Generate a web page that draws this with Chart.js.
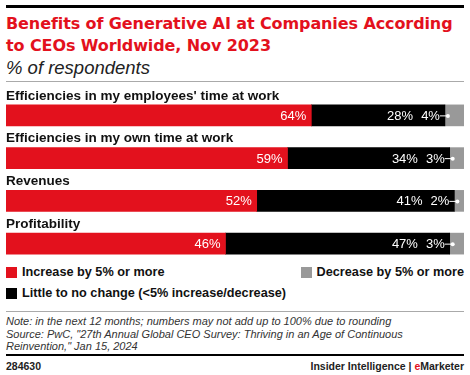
<!DOCTYPE html>
<html>
<head>
<meta charset="utf-8">
<script src="https://cdn.jsdelivr.net/npm/chart.js@4"></script>
<style>
body{margin:0;width:470px;height:375px;background:#fff;font-family:"Liberation Sans",Arial,sans-serif;position:relative;overflow:hidden}
.topline{position:absolute;left:6px;top:5px;width:458px;height:3px;background:#000}
.title{position:absolute;left:6px;top:13px;width:464px;color:#e3111d;font-weight:bold;font-family:"DejaVu Sans",sans-serif;font-size:16px;line-height:21.5px;letter-spacing:-0.1px;white-space:nowrap}
.sub{position:absolute;left:6px;top:57px;font-style:italic;font-size:18.5px;color:#222}
.grayline{position:absolute;left:6px;width:458px;height:1px;background:#aaa}
#wrap{position:absolute;left:0;top:85px;width:470px;height:180px}
.leg{position:absolute;font-size:12.7px;font-weight:bold;color:#111;display:flex;align-items:center}
.leg i{display:inline-block;width:11px;height:11px;margin-right:5px}
.note{position:absolute;left:6px;top:315px;font-style:italic;font-size:11px;line-height:12.5px;color:#333}
.blackline{position:absolute;left:6px;top:354px;width:458px;height:2px;background:#000}
.foot{position:absolute;top:360px;font-size:10.5px;font-weight:bold;color:#222}
</style>
</head>
<body>
<div class="topline"></div>
<div class="title">Benefits of Generative AI at Companies According<br>to CEOs Worldwide, Nov 2023</div>
<div class="sub">% of respondents</div>
<div class="grayline" style="top:81px"></div>
<div id="wrap"><canvas id="chart"></canvas></div>
<div class="leg" style="left:6px;top:265px"><i style="background:#e3111d"></i>Increase by 5% or more</div>
<div class="leg" style="right:6px;top:265px"><i style="background:#999"></i>Decrease by 5% or more</div>
<div class="leg" style="left:6px;top:286px"><i style="background:#000"></i>Little to no change (&lt;5% increase/decrease)</div>
<div class="grayline" style="top:311px"></div>
<div class="note">Note: in the next 12 months; numbers may not add up to 100% due to rounding<br>Source: PwC, "27th Annual Global CEO Survey: Thriving in an Age of Continuous<br>Reinvention," Jan 15, 2024</div>
<div class="blackline"></div>
<div class="foot" style="left:6px">284630</div>
<div class="foot" style="right:6px">Insider Intelligence | <span style="color:#e3111d">e</span>Marketer</div>
<script>
var kategoriat = ["Efficiencies in my employees' time at work", "Efficiencies in my own time at work", "Revenues", "Profitability"];
var kasvu = [64, 59, 52, 46];
var eimuutosta = [28, 34, 41, 47];
var lasku = [4, 3, 2, 3];
var sarjat = ["Increase by 5% or more", "Little to no change (<5% increase/decrease)", "Decrease by 5% or more"];
var varit = ["#e3111d", "#000000", "#999999"];

// each row is stretched to full width, like the original
function osuus(arvot)
{
    return arvot.map(function (v, i) {
        return v / (kasvu[i] + eimuutosta[i] + lasku[i]) * 100;
    });
}
var raaka = [kasvu, eimuutosta, lasku];

var tekstit = {
  id: 'tekstit',
  afterDatasetsDraw: function (chart) {
    var ctx = chart.ctx;
    ctx.save();
    var m0 = chart.getDatasetMeta(0), m2 = chart.getDatasetMeta(2);
    for (let i = 0; i < kategoriat.length; i++)
    {
        var b0 = m0.data[i], b2 = m2.data[i];
        var top = b0.y - b0.height / 2;
        ctx.fillStyle = '#111';
        ctx.font = 'bold 13.5px "Liberation Sans", Arial, sans-serif';
        ctx.textAlign = 'left';
        ctx.textBaseline = 'middle';
        ctx.fillText(kategoriat[i], 6, top - 9);

        ctx.fillStyle = '#fff';
        ctx.font = '500 13px "Liberation Sans", Arial, sans-serif';
        ctx.textAlign = 'right';
        ctx.fillText(raaka[0][i] + '%', b0.x - 5, b0.y + 1);
        // small gray label with leader line
        var gs = b2.base;
        var txt2 = raaka[2][i] + '%';
        ctx.fillText(txt2, gs - 5, b0.y + 1);
        var w2 = ctx.measureText(txt2).width;
        ctx.strokeStyle = '#fff';
        ctx.lineWidth = 1;
        ctx.beginPath();
        ctx.moveTo(gs - 5, b0.y + 0.5);
        ctx.lineTo(gs + 3, b0.y + 0.5);
        ctx.stroke();
        ctx.beginPath();
        ctx.arc(gs + 3, b0.y + 0.5, 2, 0, Math.PI * 2);
        ctx.fill();
        ctx.fillText(raaka[1][i] + '%', gs - 5 - w2 - 8, b0.y + 1);
    }
    ctx.restore();
  }
};

var kaavio = new Chart(document.getElementById('chart'), {
  type: 'bar',
  data: {
    labels: kategoriat,
    datasets: [
      { label: sarjat[0], data: osuus(kasvu), backgroundColor: varit[0] },
      { label: sarjat[1], data: osuus(eimuutosta), backgroundColor: varit[1] },
      { label: sarjat[2], data: osuus(lasku), backgroundColor: varit[2] }
    ]
  },
  options: {
    indexAxis: 'y',
    responsive: true,
    maintainAspectRatio: false,
    animation: false,
    layout: { padding: { top: 9, left: 6, right: 6, bottom: 0 } },
    datasets: { bar: { barThickness: 21, borderWidth: 0 } },
    scales: {
      x: { stacked: true, display: false, min: 0, max: 100 },
      y: { stacked: true, display: false }
    },
    plugins: { legend: { display: false }, tooltip: { enabled: false } }
  },
  plugins: [tekstit]
});
</script>
</body>
</html>
